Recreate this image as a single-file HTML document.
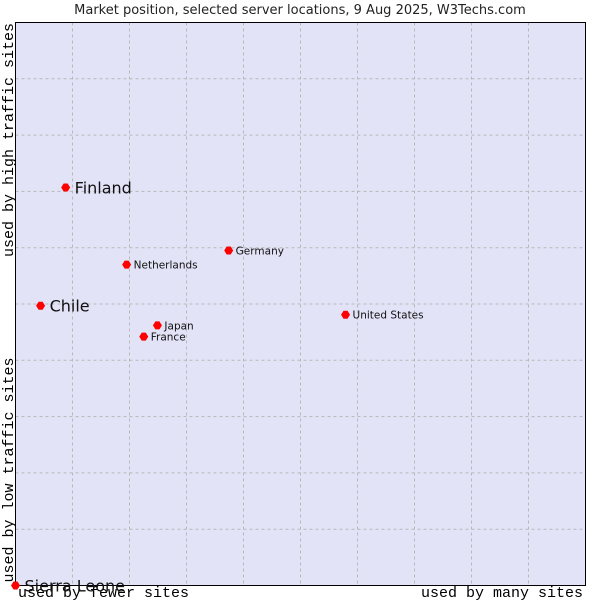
<!DOCTYPE html>
<html><head><meta charset="utf-8"><style>
body{margin:0;background:#fff}
svg{display:block}
</style></head><body>
<svg id="chart" width="600" height="600" xmlns="http://www.w3.org/2000/svg">
<rect x="0" y="0" width="600" height="600" fill="#fff"/>
<text x="300" y="14" text-anchor="middle" font-family="DejaVu Sans, sans-serif" font-size="13" fill="#222">Market position, selected server locations, 9 Aug 2025, W3Techs.com</text>
<rect x="15.5" y="22.5" width="570" height="563" fill="#e3e3f8"/>
<g id="grid"></g>
<rect x="15.5" y="22.5" width="570" height="563" fill="none" stroke="#000" stroke-width="1"/>
<text transform="translate(13,140) rotate(-90)" text-anchor="middle" font-family="Liberation Mono, monospace" font-size="15" fill="#000">used by high traffic sites</text>
<text transform="translate(13,470) rotate(-90)" text-anchor="middle" font-family="Liberation Mono, monospace" font-size="15" fill="#000">used by low traffic sites</text>
<text x="18" y="597" font-family="Liberation Mono, monospace" font-size="15" fill="#000">used by fewer sites</text>
<text x="583" y="597" text-anchor="end" font-family="Liberation Mono, monospace" font-size="15" fill="#000">used by many sites</text>
<g id="points"></g>
</svg>
<script>
const countries = ["Finland","Netherlands","Germany","Chile","Japan","France","United States","Sierra Leone"];
const siteUsage = [8.8,19.5,37.4,4.4,24.9,22.5,57.9,0];
const trafficLevel = [70.7,57.0,59.5,49.7,46.2,44.2,48.1,0];
const bigLabel = [true,false,false,true,false,false,false,true];
const gridTicks = [10,20,30,40,50,60,70,80,90];

const L=15.5,T=22.5,W=570,H=563;
function xs(v){return L+v/100*W;}
function ys(v){return T+H-v/100*H;}
const NS="http://www.w3.org/2000/svg";
const grid=document.getElementById('grid');
gridTicks.forEach(t=>{
  const v=document.createElementNS(NS,'line');
  v.setAttribute('x1',xs(t));v.setAttribute('x2',xs(t));v.setAttribute('y1',T);v.setAttribute('y2',T+H);
  v.setAttribute('stroke','#b8b8b8');v.setAttribute('stroke-dasharray','3,3');
  
  
  grid.appendChild(v);
  const h=document.createElementNS(NS,'line');
  h.setAttribute('y1',ys(t));h.setAttribute('y2',ys(t));h.setAttribute('x1',L);h.setAttribute('x2',L+W);
  h.setAttribute('stroke','#b8b8b8');h.setAttribute('stroke-dasharray','3,3');
  
  
  grid.appendChild(h);
});
const pts=document.getElementById('points');
countries.forEach((c,i)=>{
  const x=xs(siteUsage[i]),y=ys(trafficLevel[i]);
  const m=document.createElementNS(NS,'path');
  m.setAttribute('d',`M${x-4.5},${y} L${x-2},${y-4} L${x+2},${y-4} L${x+4.5},${y} L${x+2},${y+4} L${x-2},${y+4} Z`);
  m.setAttribute('fill','#ff0000');
  
  
  pts.appendChild(m);
  const t=document.createElementNS(NS,'text');
  const big=bigLabel[i];
  t.setAttribute('x',x+(big?9:7));
  t.setAttribute('y',y+(big?6:4));
  t.setAttribute('font-family','DejaVu Sans, sans-serif');
  t.setAttribute('font-size',big?16:10.5);
  t.setAttribute('fill','#111');
  t.textContent=c;
  
  
  pts.appendChild(t);
});
</script>
</body></html>
